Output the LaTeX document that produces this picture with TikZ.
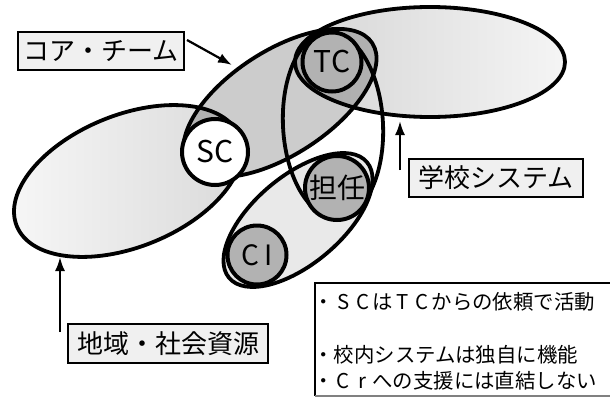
\documentclass[tikz,border=0pt]{standalone}
\usepackage{fontspec}
\setmainfont{Noto Sans CJK JP}
\usetikzlibrary{arrows.meta,shapes.geometric}
\begin{document}
\begin{tikzpicture}[x=0.5pt,y=-0.5pt,
  outl/.style={line width=1.9pt},
  ring/.style={circle, draw, line width=2pt, inner sep=0pt},
  darkring/.style={ring, fill=gray!60},
  lbl/.style={draw, line width=0.6pt, fill=gray!12, inner sep=0pt, font=\fontsize{13pt}{15pt}\selectfont},
  arr/.style={line width=1.1pt, -{Latex[length=7pt,width=5pt]}},
  note/.style={anchor=west, inner sep=0pt, font=\fontsize{10.2pt}{12pt}\selectfont},
  fw/.style={}
]
\useasboundingbox (0,0) rectangle (610,396);
\fill[white] (0,0) rectangle (610,396);

% fills of the group ellipses
\shade[left color=gray!6, right color=gray!30, rotate around={22:(128,181)}] (128,181) ellipse [x radius=60pt, y radius=33pt];
\shade[left color=gray!33, right color=gray!8] (430,62) ellipse [x radius=67.5pt, y radius=27.5pt];
\fill[gray!17, rotate around={40:(298,220)}] (298,220) ellipse [x radius=45pt, y radius=22pt];
\fill[black, fill opacity=0.2, rotate around={33:(280,103)}] (280,103) ellipse [x radius=55pt, y radius=26pt];

% outlines
\draw[outl, rotate around={22:(128,181)}] (128,181) ellipse [x radius=60pt, y radius=33pt];
\draw[outl] (430,62) ellipse [x radius=67.5pt, y radius=27.5pt];
\draw[outl, rotate around={40:(298,220)}] (298,220) ellipse [x radius=45pt, y radius=22pt];
\draw[outl, rotate around={33:(280,103)}] (280,103) ellipse [x radius=55pt, y radius=26pt];
\draw[outl, rotate around={3:(333,125)}] (333,125) ellipse [x radius=25pt, y radius=46.5pt];

% circles
\node[ring, fill=white, minimum size=33pt, font=\fontsize{15pt}{17pt}\selectfont] (sc) at (215,152) {SC};
\node[darkring, minimum size=29.5pt, font=\fontsize{15pt}{17pt}\selectfont] (tc) at (332,62) {TC};
\node[darkring, minimum size=32pt, font=\fontsize{14pt}{16pt}\selectfont] (tannin) at (337,188) {担任};
\node[darkring, minimum size=29.5pt, font=\fontsize{14pt}{16pt}\selectfont] (ci) at (257,255) {C\hspace{2.5pt}I};

% labels
\node[lbl, minimum width=83pt, minimum height=19pt] (corelbl) at (101,51) {コア・チーム};
\node[lbl, minimum width=87pt, minimum height=19pt] (schlbl) at (496,178) {学校システム};
\node[lbl, minimum width=100pt, minimum height=19.5pt] (comlbl) at (168,343.5) {地域・社会資源};

% arrows
\coordinate (coreA) at (187,40);
\coordinate (coreB) at (232,65);
\coordinate (schA) at (400,170);
\coordinate (schB) at (400,121);
\coordinate (comA) at (60,332);
\coordinate (comB) at (60,257);
\draw[arr] (coreA) -- (coreB);
\draw[arr] (schA) -- (schB);
\draw[arr] (comA) -- (comB);

% note box (right side lies on the picture edge)
\node[anchor=north west, minimum width=148pt, minimum height=56pt, inner sep=0pt] (notebox) at (315,283) {};
\draw[line width=0.7pt] (notebox.north east) -- (notebox.north west) -- (notebox.south west);
\draw[line width=0.7pt, gray] (notebox.south west) -- (notebox.south east);
\node[note] (n1) at (313,302) {・\makebox[0.95em]{S}\makebox[0.95em]{C}は\makebox[0.95em]{T}\makebox[0.95em]{C}からの依頼で活動};
\node[note] (n2) at (313,355) {・校内システムは独自に機能};
\node[note] (n3) at (313,381) {・\makebox[0.95em]{C}\makebox[0.95em]{r}への支援には直結しない};
\end{tikzpicture}
\end{document}
